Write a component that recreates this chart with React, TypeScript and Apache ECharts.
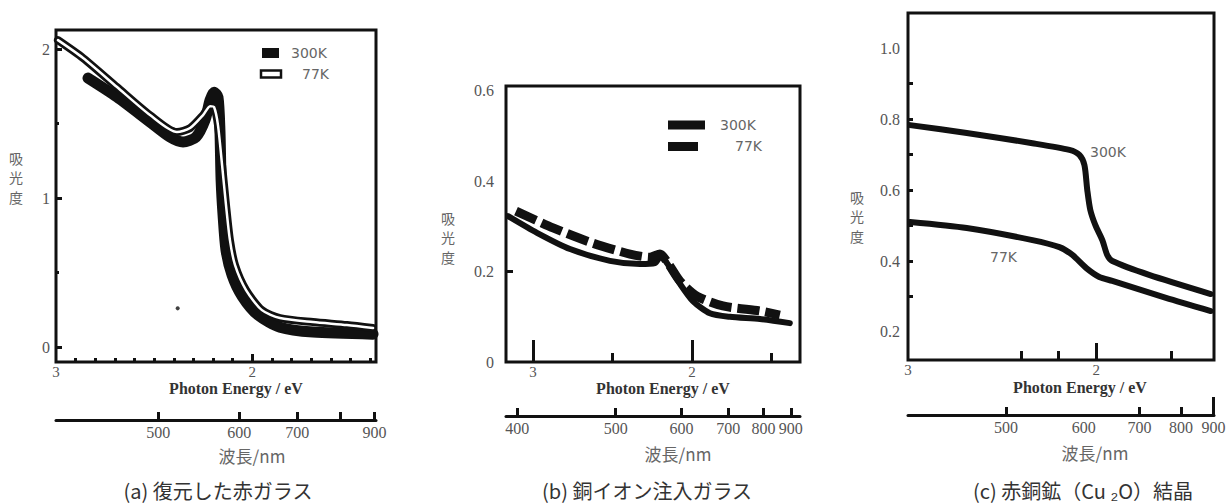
import React, { useEffect, useRef } from "react";
import * as echarts from "echarts";

const HC = 1239.84; // eV·nm, converts wavelength ticks to photon energy

// ---------- Panel (a) 復元した赤ガラス : [photon energy / eV, absorbance]
const redGlass300K: [number, number][] = [
  [2.837, 1.805], [2.689, 1.678], [2.521, 1.51], [2.419, 1.409], [2.353, 1.376],
  [2.287, 1.409], [2.241, 1.523], [2.215, 1.658], [2.195, 1.711], [2.175, 1.678],
  [2.165, 1.456], [2.159, 1.121], [2.149, 0.886], [2.134, 0.651], [2.103, 0.483],
  [2.052, 0.342], [1.971, 0.215], [1.859, 0.134], [1.691, 0.101], [1.385, 0.087],
];
const redGlass77K: [number, number][] = [
  [2.99, 2.06], [2.862, 1.94], [2.689, 1.745], [2.521, 1.557], [2.384, 1.443],
  [2.317, 1.47], [2.251, 1.557], [2.215, 1.617], [2.195, 1.611], [2.175, 1.49],
  [2.154, 1.221], [2.134, 0.953], [2.114, 0.718], [2.088, 0.55], [2.032, 0.383],
  [1.951, 0.248], [1.859, 0.195], [1.691, 0.168], [1.518, 0.148], [1.385, 0.128],
];
const redGlassSpeck: [number, number][] = [[2.38, 0.26]];

// ---------- Panel (b) 銅イオン注入ガラス
const ionGlass300K: [number, number][] = [
  [3.157, 0.323], [2.975, 0.286], [2.767, 0.25], [2.516, 0.224], [2.327, 0.217],
  [2.233, 0.219], [2.195, 0.235], [2.157, 0.219], [2.075, 0.173], [1.994, 0.135],
  [1.887, 0.108], [1.761, 0.1], [1.572, 0.095], [1.384, 0.086],
];
const ionGlass77K: [number, number][] = [
  [3.107, 0.334], [2.874, 0.297], [2.623, 0.263], [2.39, 0.239], [2.264, 0.232],
  [2.201, 0.239], [2.151, 0.219], [2.075, 0.179], [1.969, 0.146], [1.805, 0.124],
  [1.572, 0.113], [1.447, 0.104],
];

// ---------- Panel (c) 赤銅鉱 (Cu2O) 結晶
const cuprite300K: [number, number][] = [
  [2.989, 0.783], [2.688, 0.761], [2.339, 0.732], [2.143, 0.713], [2.09, 0.699],
  [2.063, 0.67], [2.048, 0.6], [2.032, 0.544], [2.005, 0.501], [1.968, 0.459],
  [1.942, 0.417], [1.915, 0.4], [1.72, 0.361], [1.392, 0.307],
];
const cuprite77K: [number, number][] = [
  [2.989, 0.51], [2.688, 0.493], [2.339, 0.459], [2.196, 0.439], [2.127, 0.417],
  [2.053, 0.38], [1.984, 0.355], [1.915, 0.344], [1.63, 0.296], [1.392, 0.259],
];

// ---------- Tick values
const energyLabels = [3, 2];
const energyMajorA = [2];
const energyMinorA = [2.9, 2.8, 2.7, 2.6, 2.5, 2.4, 2.3, 2.2, 2.1, 1.9, 1.8, 1.7, 1.6, 1.5, 1.4];
const absMajorA = [0, 1, 2];
const absMinorA = [0.5, 1.5];
const wlTicksA = [500, 600, 700, 800, 900];
const wlLabelsA = [500, 600, 700, 900];

const energyLongB = [3, 2];
const energyShortB = [2.5, 1.5];
const absTicksB = [0.2];
const absLabelsB = [0, 0.2, 0.4, 0.6];
const wlTicksB = [400, 500, 600, 700, 800, 900];
const wlLabelsB = [400, 500, 600, 700, 800, 900];

const energyLongC = [2];
const energyShortC = [2.4, 2.2, 1.6];
const absTicksC = [0.3, 0.4, 0.5, 0.6, 0.7, 0.8, 0.9];
const absLabelsC = [0.2, 0.4, 0.6, 0.8, 1.0];
const wlTicksC = [500, 700, 800];
const wlLongC = [900];
const wlLabelsC = [500, 600, 700, 800, 900];

const SERIF = '"Liberation Serif", "DejaVu Serif", serif';
const SANS = '"DejaVu Sans", "Liberation Sans", sans-serif';
const CJK = '"Noto Sans CJK JP", sans-serif';
const INK = "#111";
const GREY = "#555";

const toE = (w: number[]) => w.map((v) => HC / v);

function buildOption() {
  const grids: any[] = [];
  const xAxes: any[] = [];
  const yAxes: any[] = [];
  const series: any[] = [];
  const graphics: any[] = [];

  const addX = (o: any) => {
    xAxes.push({
      type: "value",
      inverse: true,
      position: "bottom",
      offset: 0,
      splitLine: { show: false },
      axisLine: { show: false, onZero: false },
      ...o,
    });
    return xAxes.length - 1;
  };
  const addY = (o: any) => {
    yAxes.push({
      type: "value",
      position: "left",
      offset: 0,
      splitLine: { show: false },
      axisLine: { show: false, onZero: false },
      ...o,
    });
    return yAxes.length - 1;
  };
  const ticks = (vals: number[], len: number) => ({
    show: true,
    inside: true,
    length: len,
    customValues: vals,
    lineStyle: { color: INK, width: 3 },
  });
  const noLabel = { show: false };
  const labels = (vals: number[], fmt: (v: number) => string, margin: number, size = 16) => ({
    show: true,
    customValues: vals,
    formatter: fmt,
    margin,
    color: GREY,
    fontFamily: SERIF,
    fontSize: size,
  });
  const wlFmt = (v: number) => String(Math.round(HC / v));
  const eFmt = (v: number) => String(Math.round(v));
  const text = (x: number, y: number, t: string, font: string, size: number, color: string, align = "center", extra: any = {}) => ({
    type: "text",
    x,
    y,
    z: 10,
    style: {
      text: t,
      fontFamily: font,
      fontSize: size,
      fill: color,
      textAlign: align,
      textVerticalAlign: "middle",
      ...extra,
    },
  });

  const panel = (cfg: any) => {
    const g = grids.length;
    grids.push({
      left: cfg.left,
      top: cfg.top,
      width: cfg.width,
      height: cfg.height,
      show: true,
      borderColor: INK,
      borderWidth: 3,
      backgroundColor: "transparent",
      containLabel: false,
      outerBoundsMode: "none",
    });
    const base = { gridIndex: g, min: cfg.xMin, max: cfg.xMax };
    const xMain = addX({ ...base, axisTick: ticks(cfg.eLong, cfg.eLongLen), axisLabel: labels(energyLabels, eFmt, 2, 15) });
    addX({ ...base, axisTick: ticks(cfg.eShort, cfg.eShortLen), axisLabel: noLabel });
    addX({
      ...base,
      offset: cfg.wlOffset,
      axisLine: { show: true, onZero: false, lineStyle: { color: INK, width: 3 } },
      axisTick: ticks(toE(cfg.wlTicks), 8),
      axisLabel: labels(toE(cfg.wlLabels), wlFmt, 4, 16),
    });
    if (cfg.wlLong) {
      addX({ ...base, offset: cfg.wlOffset, axisTick: ticks(toE(cfg.wlLong), 18), axisLabel: noLabel });
    }
    const ybase = { gridIndex: g, min: cfg.yMin, max: cfg.yMax };
    const yMain = addY({ ...ybase, axisTick: ticks(cfg.yMajor, cfg.yMajorLen), axisLabel: labels(cfg.yLabels, cfg.yFmt, cfg.yMargin) });
    if (cfg.yMinor) addY({ ...ybase, axisTick: ticks(cfg.yMinor, cfg.yMinorLen), axisLabel: noLabel });
    for (const s of cfg.series) {
      series.push({ xAxisIndex: xMain, yAxisIndex: yMain, ...s });
    }
    graphics.push(text(cfg.peX, cfg.peY, "Photon Energy / eV", SERIF, 16, "#333", "center", { fontWeight: "bold" }));
    graphics.push(text(cfg.wlX, cfg.wlY, "波長/nm", CJK, 17, "#666"));
    graphics.push(text(cfg.capX, 490, cfg.caption, CJK, 20, "#333"));
    ["吸", "光", "度"].forEach((ch, i) => {
      graphics.push(text(cfg.absX, cfg.absY - 19.5 + i * 19.5, ch, CJK, 14, "#666", "center", { lineHeight: 14 }));
    });
  };

  const line = (data: any, width: number, color = INK, extra: any = {}) => ({
    type: "line",
    data,
    symbol: "none",
    smooth: 0.25,
    silent: true,
    lineStyle: { color, width, cap: "round", join: "round", ...extra },
  });

  // (a)
  panel({
    left: 56, top: 30, width: 320, height: 332,
    xMin: 1.37, xMax: 3, yMin: -0.1, yMax: 2.128,
    eLong: energyMajorA, eLongLen: 8, eShort: energyMinorA, eShortLen: 4,
    wlOffset: 58, wlTicks: wlTicksA, wlLabels: wlLabelsA,
    yMajor: absMajorA, yMajorLen: 6, yMinor: absMinorA, yMinorLen: 3,
    yLabels: absMajorA, yFmt: (v: number) => String(v), yMargin: 6,
    series: [
      line(redGlass300K, 11),
      line(redGlass77K, 8),
      line(redGlass77K, 2.5, "#fff"),
      { type: "scatter", data: redGlassSpeck, symbolSize: 4, itemStyle: { color: INK }, silent: true },
    ],
    peX: 236, peY: 388, wlX: 252, wlY: 455, capX: 218, caption: "(a) 復元した赤ガラス", absX: 16, absY: 177,
  });
  // (b)
  panel({
    left: 506, top: 86, width: 294, height: 276,
    xMin: 1.32, xMax: 3.17, yMin: 0, yMax: 0.611,
    eLong: energyLongB, eLongLen: 22, eShort: energyShortB, eShortLen: 9,
    wlOffset: 54, wlTicks: wlTicksB, wlLabels: wlLabelsB,
    yMajor: absTicksB, yMajorLen: 7,
    yLabels: absLabelsB, yFmt: (v: number) => (v === 0 ? "0" : v.toFixed(1)), yMargin: 12,
    series: [
      line(ionGlass300K, 6),
      line(ionGlass77K, 9, INK, { type: [22, 6], cap: "butt", join: "miter" }),
    ],
    peX: 663, peY: 388, wlX: 678, wlY: 453, capX: 647, caption: "(b) 銅イオン注入ガラス", absX: 448, absY: 237,
  });
  // (c)
  panel({
    left: 908, top: 13, width: 306, height: 347,
    xMin: 1.375, xMax: 3, yMin: 0.121, yMax: 1.099,
    eLong: energyLongC, eLongLen: 17, eShort: energyShortC, eShortLen: 9,
    wlOffset: 55, wlTicks: wlTicksC, wlLabels: wlLabelsC, wlLong: wlLongC,
    yMajor: absTicksC, yMajorLen: 5,
    yLabels: absLabelsC, yFmt: (v: number) => v.toFixed(1), yMargin: 8,
    series: [line(cuprite300K, 6), line(cuprite77K, 6)],
    peX: 1080, peY: 387, wlX: 1095, wlY: 452, capX: 1083, caption: "(c) 赤銅鉱（Cu ₂O）結晶", absX: 857, absY: 216,
  });

  // legends / curve labels
  graphics.push({ type: "rect", shape: { x: 262, y: 48, width: 17, height: 10 }, style: { fill: INK }, z: 10 });
  graphics.push({ type: "rect", shape: { x: 261, y: 70.5, width: 20, height: 7 }, style: { fill: "#fff", stroke: INK, lineWidth: 2.5 }, z: 10 });
  graphics.push(text(291, 53, "300K", SANS, 14, "#666", "left"));
  graphics.push(text(302, 74, "77K", SANS, 14, "#666", "left"));

  graphics.push({ type: "rect", shape: { x: 668, y: 120.5, width: 37, height: 9 }, style: { fill: INK }, z: 10 });
  graphics.push({ type: "rect", shape: { x: 668, y: 142, width: 30, height: 9 }, style: { fill: INK }, z: 10 });
  graphics.push(text(720, 125, "300K", SANS, 14, "#666", "left"));
  graphics.push(text(762, 146, "77K", SANS, 14, "#666", "right"));

  graphics.push(text(1090, 152, "300K", SANS, 14, "#666", "left"));
  graphics.push(text(990, 257, "77K", SANS, 14, "#666", "left"));

  return {
    animation: false,
    backgroundColor: "#fff",
    grid: grids,
    xAxis: xAxes,
    yAxis: yAxes,
    series,
    graphic: graphics,
  };
}

export default function App() {
  const ref = useRef<HTMLDivElement>(null);
  useEffect(() => {
    if (!ref.current) return;
    const chart = echarts.init(ref.current, undefined, { renderer: "svg" });
    chart.setOption(buildOption() as any);
    return () => chart.dispose();
  }, []);
  return (
    <div
      ref={ref}
      style={{ position: "fixed", left: 0, top: 0, width: 1228, height: 503, background: "#fff" }}
    />
  );
}
